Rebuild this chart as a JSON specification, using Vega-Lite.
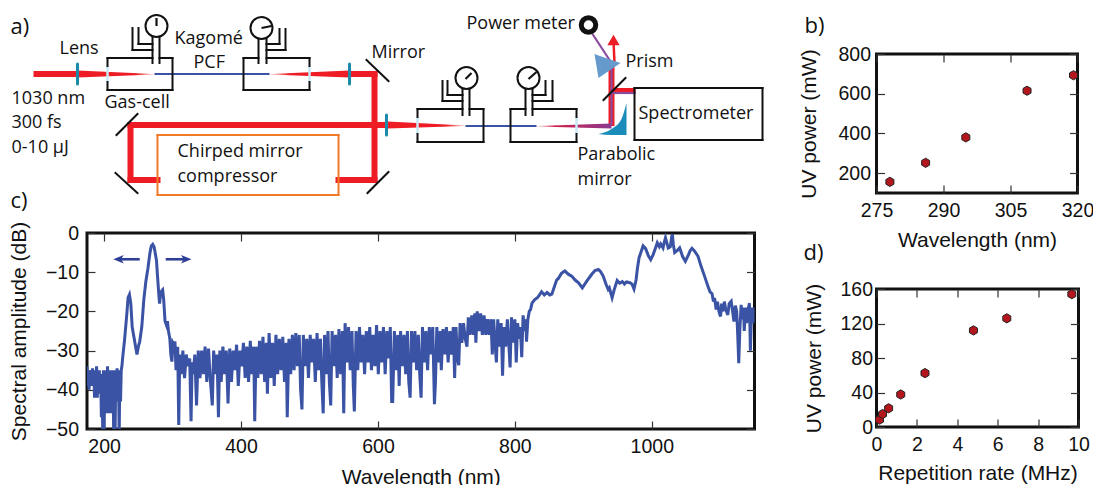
{
"$schema":"https://vega.github.io/schema/vega-lite/v6.json",
"background":"white",
"padding":{"left":7,"top":3,"right":0,"bottom":0},
"spacing":32.5,
"config":{"font":"Liberation Sans","axis":{"domain":false,"grid":false,"tickColor":"#333","tickSize":-8,"tickWidth":1.2,"labelFont":"Liberation Sans","labelFontSize":19.5,"labelColor":"#111","titleFont":"Liberation Sans","titleFontSize":21,"titleFontWeight":"normal","titleColor":"#111","labelOverlap":false,"labelBound":false,"labelFlush":false,"labelPadding":16.5},"view":{"stroke":"#111","strokeWidth":3}},
"datasets":{
"black":[
{"x":108,"y":65,"x2":108,"y2":57},{"x":108,"y":57,"x2":153,"y2":57},{"x":160,"y":57,"x2":173,"y2":57},{"x":173,"y":57,"x2":173,"y2":89},{"x":173,"y":89,"x2":108,"y2":89},{"x":108,"y":89,"x2":108,"y2":81},
{"x":153,"y":36,"x2":153,"y2":62},{"x":160,"y":35,"x2":160,"y2":62},{"x":133,"y":27,"x2":133,"y2":49},{"x":133,"y":49,"x2":153,"y2":49},{"x":139,"y":27,"x2":139,"y2":43},{"x":139,"y":43,"x2":153,"y2":43},
{"x":310,"y":65,"x2":310,"y2":57},{"x":310,"y":57,"x2":267,"y2":57},{"x":259,"y":57,"x2":244,"y2":57},{"x":244,"y":57,"x2":244,"y2":89},{"x":244,"y":89,"x2":310,"y2":89},{"x":310,"y":89,"x2":310,"y2":81},
{"x":259,"y":37,"x2":259,"y2":62},{"x":267,"y":37,"x2":267,"y2":62},{"x":286,"y":28,"x2":286,"y2":49},{"x":286,"y":49,"x2":267,"y2":49},{"x":280,"y":28,"x2":280,"y2":43},{"x":280,"y":43,"x2":267,"y2":43},
{"x":418,"y":116,"x2":418,"y2":108},{"x":418,"y":108,"x2":463,"y2":108},{"x":470,"y":108,"x2":484,"y2":108},{"x":484,"y":108,"x2":484,"y2":141},{"x":484,"y":141,"x2":418,"y2":141},{"x":418,"y":141,"x2":418,"y2":133},
{"x":463,"y":88,"x2":463,"y2":114},{"x":470,"y":88,"x2":470,"y2":114},{"x":443,"y":80,"x2":443,"y2":100},{"x":443,"y":100,"x2":463,"y2":100},{"x":448,"y":80,"x2":448,"y2":94},{"x":448,"y":94,"x2":463,"y2":94},
{"x":577,"y":116,"x2":577,"y2":108},{"x":577,"y":108,"x2":533,"y2":108},{"x":526,"y":108,"x2":511,"y2":108},{"x":511,"y":108,"x2":511,"y2":141},{"x":511,"y":141,"x2":577,"y2":141},{"x":577,"y":141,"x2":577,"y2":133},
{"x":526,"y":88,"x2":526,"y2":114},{"x":533,"y":88,"x2":533,"y2":114},{"x":553,"y":80,"x2":553,"y2":100},{"x":553,"y":100,"x2":533,"y2":100},{"x":546,"y":80,"x2":546,"y2":94},{"x":546,"y":94,"x2":533,"y2":94},
{"x":635,"y":87,"x2":763,"y2":87},{"x":763,"y":87,"x2":763,"y2":139},{"x":763,"y":139,"x2":635,"y2":139},{"x":635,"y":139,"x2":635,"y2":87},
{"x":367,"y":59,"x2":389,"y2":80},{"x":117,"y":134,"x2":138,"y2":113},{"x":116,"y":172,"x2":138,"y2":192},{"x":368,"y":192,"x2":389,"y2":171},{"x":604,"y":99,"x2":626,"y2":77}],
"needles":[{"x":157,"y":25,"x2":157,"y2":17},{"x":262,"y":27,"x2":272,"y2":25},{"x":466,"y":78,"x2":472,"y2":72},{"x":529,"y":78,"x2":537,"y2":71}],
"red":[
{"x":37,"y":73,"x2":78,"y2":73},{"x":350,"y":73,"x2":375,"y2":73},{"x":375,"y":73,"x2":375,"y2":179},{"x":131,"y":124,"x2":375,"y2":124},{"x":375,"y":124,"x2":388,"y2":124},{"x":131,"y":124,"x2":131,"y2":179},{"x":131,"y":179,"x2":158,"y2":179},{"x":339,"y":179,"x2":375,"y2":179}],
"redthin":[{"x":612,"y":125,"x2":612,"y2":62},{"x":614,"y":90,"x2":636,"y2":90}],
"cones_out":[
{"g":"a","x":78,"y":69.5,"y2":76.5},{"g":"a","x":155,"y":73,"y2":73.5},
{"g":"c","x":388,"y":120.5,"y2":127.5},{"g":"c","x":466,"y":124.5,"y2":125}],
"cones_in":[
{"g":"b","x":270,"y":73,"y2":73.5},{"g":"b","x":350,"y":69.5,"y2":76.5}],
"cone_end":[{"g":"d","x":537,"y":125,"y2":125.5},{"g":"d","x":612,"y":122.5,"y2":127.5}],
"pcf":[{"x":155,"y":73,"x2":270,"y2":73},{"x":466,"y":125,"x2":537,"y2":125}],
"purple":[{"x":612,"y":124,"x2":612,"y2":62},{"x":612,"y":62,"x2":593,"y2":33},{"x":613,"y":92,"x2":636,"y2":92}],
"redup":[{"x":615,"y":62,"x2":614,"y2":40}],
"windows":[{"x":108,"y":65,"x2":108,"y2":81},{"x":310,"y":65,"x2":310,"y2":81},{"x":418,"y":116,"x2":418,"y2":133},{"x":577,"y":116,"x2":577,"y2":133}],
"lenses":[{"x":78,"y":63,"x2":78,"y2":83},{"x":350,"y":63,"x2":350,"y2":83},{"x":387,"y":114,"x2":387,"y2":134}],
"orange":[{"x":158,"y":134,"x2":339,"y2":134},{"x":339,"y":134,"x2":339,"y2":194},{"x":339,"y":194,"x2":158,"y2":194},{"x":158,"y":194,"x2":158,"y2":134}],
"gauges":[{"x":157,"y":25},{"x":262,"y":27},{"x":467,"y":77},{"x":529,"y":77}],
"meter":[{"x":589,"y":24}],
"arrowhead":[{"x":614,"y":39}],
"prism":[{"x":595,"y":53,"y2":53},{"x":599,"y":54.4,"y2":77},{"x":621,"y":62,"y2":62}],
"parabola":[{"x":599,"y":133,"y2":133},{"x":612,"y":128,"y2":134},{"x":622,"y":118,"y2":134},{"x":627,"y":102,"y2":134}],
"labels":[
{"x":60,"y":48,"t":"Lens"},{"x":175,"y":38,"t":"Kagomé"},{"x":194,"y":62,"t":"PCF"},{"x":372,"y":52,"t":"Mirror"},{"x":105,"y":102,"t":"Gas-cell"},
{"x":12,"y":98,"t":"1030 nm"},{"x":12,"y":122,"t":"300 fs"},{"x":12,"y":147,"t":"0-10 µJ"},{"x":178,"y":151,"t":"Chirped mirror"},{"x":178,"y":176,"t":"compressor"},
{"x":467,"y":23,"t":"Power meter"},{"x":626,"y":61,"t":"Prism"},{"x":639,"y":113,"t":"Spectrometer"},{"x":578,"y":154,"t":"Parabolic"},{"x":578,"y":179,"t":"mirror"}],
"panels":[{"x":11,"y":26,"t":"a)"},{"x":11,"y":200,"t":"c)"}],
"anchorA":[{"x":400,"y":5}],
"anchorB":[{"w":290,"p":1042}],
"panelB":[{"w":258.9,"p":941,"t":"b)"}],
"panelD":[{"r":-3.61,"p":201.7,"t":"d)"}],
"spectrum":[
{"w":175,"a":-34},{"w":176,"a":-39},{"w":177,"a":-35},{"w":178,"a":-40},{"w":179,"a":-36},{"w":180,"a":-38},{"w":181,"a":-35},{"w":182,"a":-39},{"w":183,"a":-34.5},{"w":184,"a":-37},{"w":185,"a":-35},{"w":186,"a":-42},{"w":187,"a":-35},{"w":188,"a":-38},{"w":189,"a":-34},{"w":190,"a":-42},{"w":191,"a":-36},{"w":192,"a":-38},{"w":193,"a":-35},{"w":194,"a":-41},{"w":195,"a":-36},{"w":196,"a":-47},{"w":197,"a":-36},{"w":198,"a":-52},{"w":199,"a":-35},{"w":200,"a":-52},{"w":201,"a":-35},{"w":202,"a":-46},{"w":203,"a":-36},{"w":204,"a":-45},{"w":205,"a":-34},{"w":206,"a":-46},{"w":207,"a":-36},{"w":208,"a":-41},{"w":209,"a":-35},{"w":210,"a":-46},{"w":211,"a":-35},{"w":212,"a":-42},{"w":213,"a":-36},{"w":214,"a":-52},{"w":215,"a":-35},{"w":216,"a":-52},{"w":217,"a":-36},{"w":218,"a":-40},{"w":219,"a":-34.5},{"w":220,"a":-43},{"w":221,"a":-36},{"w":222,"a":-52},{"w":223,"a":-35},{"w":224,"a":-43},{"w":225,"a":-35},{"w":226,"a":-34},{"w":227,"a":-32},
{"w":230,"a":-27},{"w":233,"a":-21},{"w":235,"a":-16.5},{"w":237,"a":-15.7},{"w":239,"a":-18},{"w":241,"a":-24},{"w":244,"a":-27},{"w":246,"a":-29},{"w":248,"a":-31},{"w":250,"a":-29},{"w":252,"a":-27.7},{"w":255,"a":-24},{"w":258,"a":-17},{"w":261,"a":-12.3},{"w":264,"a":-9},{"w":267,"a":-5},{"w":269,"a":-3.3},{"w":271,"a":-2.9},{"w":273,"a":-3.5},{"w":275,"a":-5.5},{"w":276.5,"a":-7},{"w":278,"a":-11},{"w":280,"a":-16},{"w":281,"a":-18},{"w":282.5,"a":-15.5},{"w":284,"a":-14.8},{"w":285.5,"a":-14.5},{"w":287,"a":-17},{"w":289,"a":-22.5},{"w":291,"a":-23.5},{"w":292.5,"a":-22.5},{"w":294,"a":-25},{"w":296,"a":-27},{"w":297.5,"a":-31},{"w":299,"a":-32.8},{"w":300.5,"a":-28},{"w":302,"a":-28.5},{"w":303.5,"a":-27.7},
{"w":305,"a":-35},{"w":307.5,"a":-29},{"w":309,"a":-49},{"w":310.5,"a":-31},{"w":312.5,"a":-36},{"w":315,"a":-30},{"w":317.5,"a":-37},{"w":320,"a":-31},{"w":322.5,"a":-34},{"w":325,"a":-32},{"w":327,"a":-48},{"w":328.5,"a":-33},{"w":330,"a":-36},{"w":332.5,"a":-31},{"w":335,"a":-44},{"w":337.5,"a":-30},{"w":340,"a":-37},{"w":342.5,"a":-30},{"w":345,"a":-36},{"w":347.5,"a":-29},{"w":350,"a":-38},{"w":352.5,"a":-29.5},{"w":355,"a":-37},{"w":358,"a":-44},{"w":360,"a":-30},{"w":362.5,"a":-36},{"w":365,"a":-31},{"w":367,"a":-47},{"w":369,"a":-30},{"w":371,"a":-38},{"w":373.5,"a":-29},{"w":376,"a":-36},{"w":378.5,"a":-30},{"w":381,"a":-43.5},{"w":383.5,"a":-29.5},{"w":386,"a":-38},{"w":388.5,"a":-30},{"w":391,"a":-35},{"w":393.5,"a":-28.5},{"w":396,"a":-39},{"w":398.5,"a":-30},{"w":401,"a":-34},{"w":403.5,"a":-28},{"w":406,"a":-37},{"w":408.5,"a":-29},{"w":411,"a":-38},{"w":413.5,"a":-27.5},{"w":416,"a":-36},{"w":418.5,"a":-29},{"w":420,"a":-48},{"w":422,"a":-29},{"w":424.5,"a":-37},{"w":427,"a":-27.5},{"w":429.5,"a":-36},{"w":432,"a":-26.5},{"w":434.5,"a":-38},{"w":437,"a":-28},{"w":438.5,"a":-41},{"w":441,"a":-25.5},{"w":443.5,"a":-37},{"w":446,"a":-28},{"w":448.5,"a":-39},{"w":451,"a":-26},{"w":453.5,"a":-36},{"w":456,"a":-27},{"w":458.5,"a":-35},{"w":461,"a":-26.5},{"w":463.5,"a":-38},{"w":466,"a":-28},{"w":467.5,"a":-47},{"w":470,"a":-27},{"w":472.5,"a":-36},{"w":475,"a":-26},{"w":477.5,"a":-35},{"w":480,"a":-25.5},{"w":482.5,"a":-34},{"w":485,"a":-26},{"w":487,"a":-40},{"w":489,"a":-45},{"w":491,"a":-26},{"w":493.5,"a":-34},{"w":496,"a":-27},{"w":498.5,"a":-37},{"w":501,"a":-26},{"w":503.5,"a":-33},{"w":506,"a":-27},{"w":508.5,"a":-38},{"w":511,"a":-25.5},{"w":513.5,"a":-35},{"w":516,"a":-27},{"w":518,"a":-38},{"w":520,"a":-46},{"w":522,"a":-26},{"w":524.5,"a":-36},{"w":527,"a":-25},{"w":529,"a":-38},{"w":531,"a":-44},{"w":533,"a":-25},{"w":535.5,"a":-34},{"w":538,"a":-26},{"w":540.5,"a":-37},{"w":543,"a":-24.5},{"w":545.5,"a":-36},{"w":548,"a":-25},{"w":550,"a":-46},{"w":552,"a":-23},{"w":554.5,"a":-33},{"w":557,"a":-24},{"w":559.5,"a":-35},{"w":562,"a":-25},{"w":564,"a":-39},{"w":565.5,"a":-45.5},{"w":568,"a":-25},{"w":570.5,"a":-35},{"w":573,"a":-24},{"w":575.5,"a":-33},{"w":578,"a":-26},{"w":580.5,"a":-36},{"w":583,"a":-25},{"w":585.5,"a":-33},{"w":588,"a":-24},{"w":590.5,"a":-35},{"w":593,"a":-26},{"w":595.5,"a":-34},{"w":598,"a":-23.5},{"w":600.5,"a":-36},{"w":603,"a":-25},{"w":605.5,"a":-33},{"w":608,"a":-24},{"w":610.5,"a":-36},{"w":613,"a":-25},{"w":615.5,"a":-32},{"w":618,"a":-24},{"w":620,"a":-43},{"w":621.5,"a":-43},{"w":624,"a":-25},{"w":626.5,"a":-35},{"w":629,"a":-26},{"w":631,"a":-39},{"w":633,"a":-25},{"w":635.5,"a":-34},{"w":638,"a":-26},{"w":640.5,"a":-36},{"w":643,"a":-25},{"w":645,"a":-38},{"w":647,"a":-42},{"w":649,"a":-25},{"w":651.5,"a":-33},{"w":654,"a":-25},{"w":656.5,"a":-35},{"w":659,"a":-26},{"w":661,"a":-36},{"w":663,"a":-42},{"w":665,"a":-24},{"w":667.5,"a":-33},{"w":670,"a":-25},{"w":672.5,"a":-35},{"w":675,"a":-24},{"w":677.5,"a":-31},{"w":680,"a":-24},{"w":682.5,"a":-43.7},{"w":684,"a":-38},{"w":686,"a":-24},{"w":688.5,"a":-33},{"w":691,"a":-25},{"w":692.5,"a":-35},{"w":695,"a":-24.5},{"w":697.5,"a":-31},{"w":700,"a":-24},{"w":702.5,"a":-33},{"w":705,"a":-25},{"w":707.5,"a":-31},{"w":710,"a":-24},{"w":712,"a":-37},{"w":714,"a":-24},{"w":716,"a":-32},{"w":718,"a":-33.7},{"w":720,"a":-23},{"w":722.5,"a":-28},{"w":725,"a":-23},{"w":727.5,"a":-27},{"w":730,"a":-29},{"w":732,"a":-21.5},{"w":734.5,"a":-26},{"w":737,"a":-21},{"w":739.5,"a":-26},{"w":741.5,"a":-20.5},{"w":743,"a":-28},{"w":745,"a":-20},{"w":747.5,"a":-25},{"w":750,"a":-20.5},{"w":752.5,"a":-26},{"w":755,"a":-21},{"w":757.5,"a":-26},{"w":760,"a":-22},{"w":762.5,"a":-26},{"w":765,"a":-22},{"w":767,"a":-31},{"w":769,"a":-22},{"w":771,"a":-28},{"w":773,"a":-33},{"w":775,"a":-22},{"w":777.5,"a":-29},{"w":780,"a":-23},{"w":782,"a":-36.4},{"w":784,"a":-24},{"w":786.5,"a":-29},{"w":789,"a":-22},{"w":791,"a":-28},{"w":793,"a":-34.3},{"w":795,"a":-21.5},{"w":797.5,"a":-28},{"w":800,"a":-22},{"w":802,"a":-33},{"w":804,"a":-23},{"w":806.5,"a":-27},{"w":808,"a":-24},{"w":810,"a":-31.7},{"w":812,"a":-21},{"w":814,"a":-25},{"w":816,"a":-22},{"w":817,"a":-27.7},{"w":819,"a":-22},{"w":821,"a":-20},{"w":823,"a":-19.5},{"w":825,"a":-17.9},
{"w":829,"a":-17},{"w":833,"a":-16.5},{"w":836,"a":-15.8},{"w":839,"a":-15},{"w":843,"a":-15.8},{"w":847,"a":-15.2},{"w":851,"a":-15.8},{"w":854,"a":-15.6},{"w":858,"a":-13.5},{"w":861,"a":-12},{"w":863.5,"a":-11.6},{"w":868,"a":-10.3},{"w":873,"a":-9.7},{"w":878,"a":-10.5},{"w":883,"a":-11},{"w":888,"a":-12},{"w":893,"a":-12.7},{"w":898.5,"a":-14},{"w":905,"a":-12.3},{"w":912,"a":-10.6},{"w":917,"a":-9.6},{"w":922,"a":-9.3},{"w":925,"a":-9.8},{"w":929,"a":-11},{"w":933,"a":-13},{"w":936.3,"a":-14.4},{"w":938,"a":-14},{"w":942,"a":-16.5},{"w":945,"a":-14.5},{"w":949.4,"a":-12.1},{"w":953,"a":-12.8},{"w":957,"a":-12.4},{"w":960,"a":-13},{"w":963,"a":-12.5},{"w":968,"a":-12.7},{"w":971,"a":-13},{"w":974,"a":-14.3},{"w":977,"a":-12},{"w":979,"a":-9},{"w":981.4,"a":-6.3},{"w":984,"a":-5},{"w":987.3,"a":-3.3},{"w":991,"a":-4},{"w":995,"a":-5.8},{"w":998.4,"a":-6.8},{"w":1002,"a":-5.5},{"w":1005,"a":-4},{"w":1008,"a":-2.5},{"w":1011,"a":-3.5},{"w":1013,"a":-2.8},{"w":1016.4,"a":-3.8},{"w":1018,"a":-2.5},{"w":1020,"a":-1.2},{"w":1022,"a":-2.5},{"w":1024,"a":-3.8},{"w":1027,"a":-3.5},{"w":1029,"a":-1},{"w":1030,"a":-0.3},{"w":1031.5,"a":-3},{"w":1033.4,"a":-5},{"w":1037,"a":-4.5},{"w":1040.7,"a":-3.8},{"w":1045,"a":-6},{"w":1049,"a":-7.2},{"w":1053,"a":-5.8},{"w":1056,"a":-4.5},{"w":1058.6,"a":-3.9},{"w":1062,"a":-4.5},{"w":1067.4,"a":-5.9},{"w":1072,"a":-8.5},{"w":1077,"a":-11},{"w":1082,"a":-13.6},{"w":1085,"a":-15},{"w":1088,"a":-15.5},{"w":1090,"a":-17.5},{"w":1091.7,"a":-16.6},{"w":1094,"a":-19.5},{"w":1096,"a":-17.5},{"w":1098,"a":-20},{"w":1100.4,"a":-21.3},{"w":1102,"a":-18},{"w":1104,"a":-20},{"w":1106,"a":-17.5},{"w":1108,"a":-19.5},{"w":1111,"a":-20.9},{"w":1113,"a":-18},{"w":1116,"a":-17.4},{"w":1118,"a":-20},{"w":1120,"a":-22.6},{"w":1122,"a":-18.5},{"w":1124,"a":-20},{"w":1125.5,"a":-26},{"w":1127,"a":-33.2},{"w":1128.5,"a":-25},{"w":1130.5,"a":-18.3},{"w":1132,"a":-22},{"w":1134,"a":-19},{"w":1135,"a":-25},{"w":1137,"a":-19},{"w":1138.5,"a":-23},{"w":1140,"a":-20},{"w":1142.6,"a":-17.9},{"w":1144,"a":-30},{"w":1145.5,"a":-21},{"w":1147,"a":-19},{"w":1148.5,"a":-23},{"w":1150,"a":-19}],
"uvb":[{"w":278,"p":156},{"w":286,"p":252},{"w":295,"p":380},{"w":308.7,"p":615},{"w":319.1,"p":693}],
"uvd":[{"r":0.15,"p":8.5},{"r":0.3,"p":15},{"r":0.6,"p":21.7},{"r":1.2,"p":37.7},{"r":2.4,"p":62.5},{"r":4.8,"p":112},{"r":6.45,"p":126},{"r":9.67,"p":154}],
"arrowL":[{"w":222,"a":-6.7,"w2":252,"a2":-6.7}],
"arrowR":[{"w":290,"a":-6.7,"w2":319,"a2":-6.7}],
"headL":[{"w":221,"a":-6.7}],
"headR":[{"w":320,"a":-6.7}]
},
"hconcat":[
{"bounds":"flush","spacing":40,"vconcat":[
{"width":667.5,"height":139,"view":{"stroke":null},
"encoding":{"x":{"field":"x","type":"quantitative","axis":null,"scale":{"domain":[87.5,755],"nice":false,"zero":false}},"y":{"field":"y","type":"quantitative","axis":null,"scale":{"domain":[192,53],"nice":false,"zero":false}}},
"layer":[
{"data":{"name":"anchorA"},"mark":{"type":"point","opacity":0,"size":1}},
{"data":{"name":"red"},"mark":{"type":"rule","color":"#ee1c25","strokeWidth":6,"strokeCap":"square"},"encoding":{"x2":{"field":"x2"},"y2":{"field":"y2"}}},
{"data":{"name":"redthin"},"mark":{"type":"rule","color":"#ee1c25","strokeWidth":6},"encoding":{"x2":{"field":"x2"},"y2":{"field":"y2"}}},
{"data":{"name":"redup"},"mark":{"type":"rule","color":"#ee1c25","strokeWidth":2.5},"encoding":{"x2":{"field":"x2"},"y2":{"field":"y2"}}},
{"data":{"name":"arrowhead"},"mark":{"type":"point","shape":"triangle-up","filled":true,"opacity":1,"color":"#ee1c25","size":150}},
{"data":{"name":"cones_out"},"mark":{"type":"area","orient":"vertical","color":{"gradient":"linear","x1":0,"x2":1,"y1":0,"y2":0,"stops":[{"offset":0,"color":"#ee1c25"},{"offset":0.75,"color":"#ee1c25"},{"offset":1,"color":"#fbd5d5"}]}},"encoding":{"y2":{"field":"y2"},"detail":{"field":"g"}}},
{"data":{"name":"cones_in"},"mark":{"type":"area","orient":"vertical","color":{"gradient":"linear","x1":0,"x2":1,"y1":0,"y2":0,"stops":[{"offset":0,"color":"#fbd5d5"},{"offset":0.25,"color":"#ee1c25"},{"offset":1,"color":"#ee1c25"}]}},"encoding":{"y2":{"field":"y2"},"detail":{"field":"g"}}},
{"data":{"name":"cone_end"},"mark":{"type":"area","orient":"vertical","color":{"gradient":"linear","x1":0,"x2":1,"y1":0,"y2":0,"stops":[{"offset":0,"color":"#fbd5d5"},{"offset":0.25,"color":"#d0204a"},{"offset":1,"color":"#8a3a90"}]}},"encoding":{"y2":{"field":"y2"},"detail":{"field":"g"}}},
{"data":{"name":"pcf"},"mark":{"type":"rule","color":"#3a53a4","strokeWidth":2.2},"encoding":{"x2":{"field":"x2"},"y2":{"field":"y2"}}},
{"data":{"name":"purple"},"mark":{"type":"rule","color":"#8a4a9e","strokeWidth":2.2},"encoding":{"x2":{"field":"x2"},"y2":{"field":"y2"}}},
{"data":{"name":"windows"},"mark":{"type":"rule","color":"#c8e8f5","strokeWidth":2.5},"encoding":{"x2":{"field":"x2"},"y2":{"field":"y2"}}},
{"data":{"name":"black"},"mark":{"type":"rule","color":"#111","strokeWidth":2,"strokeCap":"square"},"encoding":{"x2":{"field":"x2"},"y2":{"field":"y2"}}},
{"data":{"name":"lenses"},"mark":{"type":"rule","color":"#1a8aa8","strokeWidth":3,"strokeCap":"round"},"encoding":{"x2":{"field":"x2"},"y2":{"field":"y2"}}},
{"data":{"name":"orange"},"mark":{"type":"rule","color":"#f07a28","strokeWidth":2,"strokeCap":"square"},"encoding":{"x2":{"field":"x2"},"y2":{"field":"y2"}}},
{"data":{"name":"gauges"},"mark":{"type":"point","shape":"circle","filled":true,"opacity":1,"fill":"white","stroke":"#111","strokeWidth":2,"size":484}},
{"data":{"name":"needles"},"mark":{"type":"rule","color":"#111","strokeWidth":2.2},"encoding":{"x2":{"field":"x2"},"y2":{"field":"y2"}}},
{"data":{"name":"meter"},"mark":{"type":"point","shape":"circle","filled":false,"opacity":1,"color":"#111","strokeWidth":5,"size":210}},
{"data":{"name":"prism"},"mark":{"type":"area","orient":"vertical","color":"#6699cc"},"encoding":{"y2":{"field":"y2"}}},
{"data":{"name":"parabola"},"mark":{"type":"area","orient":"vertical","color":"#1a8cba","interpolate":"monotone"},"encoding":{"y2":{"field":"y2"}}},
{"data":{"name":"labels"},"mark":{"type":"text","align":"left","baseline":"middle","font":"Open Sans","fontSize":18,"color":"#111"},"encoding":{"text":{"field":"t"}}},
{"data":{"name":"panels"},"mark":{"type":"text","align":"left","baseline":"middle","font":"Open Sans","fontSize":22,"color":"#111"},"encoding":{"text":{"field":"t"}}}
]},
{"width":667.5,"height":196,
"resolve":{"axis":{"x":"independent","y":"independent"}},
"encoding":{"x":{"field":"w","type":"quantitative","scale":{"domain":[175,1150],"nice":false,"zero":false}},"y":{"field":"a","type":"quantitative","scale":{"domain":[-50,0],"nice":false,"zero":false}}},
"layer":[
{"data":{"name":"spectrum"},"mark":{"type":"line","color":"#3a53a4","strokeWidth":3,"clip":true,"strokeJoin":"miter"},
"encoding":{"x":{"field":"w","type":"quantitative","axis":{"orient":"bottom","title":"Wavelength (nm)","values":[200,400,600,800,1000],"format":"d","titlePadding":10}},"y":{"field":"a","type":"quantitative","axis":{"orient":"left","title":"Spectral amplitude (dB)","values":[0,-10,-20,-30,-40,-50],"titlePadding":15.5}}}},
{"data":{"name":"headL"},"mark":{"type":"point","shape":"M-1,0 L1,-0.8 L0.5,0 L1,0.8 Z","filled":true,"opacity":1,"color":"#2e3f95","size":110},
"encoding":{"x":{"field":"w","type":"quantitative","axis":{"orient":"top","title":null,"labels":false,"values":[200,400,600,800,1000]}},"y":{"field":"a","type":"quantitative","axis":{"orient":"right","title":null,"labels":false,"values":[0,-10,-20,-30,-40,-50]}}}},
{"data":{"name":"headR"},"mark":{"type":"point","shape":"M1,0 L-1,-0.8 L-0.5,0 L-1,0.8 Z","filled":true,"opacity":1,"color":"#2e3f95","size":110},"encoding":{"x":{"field":"w","type":"quantitative","axis":null},"y":{"field":"a","type":"quantitative","axis":null}}},
{"data":{"name":"arrowL"},"mark":{"type":"rule","color":"#2e3f95","strokeWidth":2.6},"encoding":{"x":{"field":"w","type":"quantitative","axis":null},"y":{"field":"a","type":"quantitative","axis":null},"x2":{"field":"w2"},"y2":{"field":"a2"}}},
{"data":{"name":"arrowR"},"mark":{"type":"rule","color":"#2e3f95","strokeWidth":2.6},"encoding":{"x":{"field":"w","type":"quantitative","axis":null},"y":{"field":"a","type":"quantitative","axis":null},"x2":{"field":"w2"},"y2":{"field":"a2"}}}
]}
]},
{"bounds":"flush","spacing":96,"vconcat":[
{"width":201,"height":139,
"resolve":{"axis":{"x":"independent","y":"independent"}},
"layer":[
{"data":{"name":"uvb"},"mark":{"type":"point","shape":"M0,-1 L0.866,-0.5 L0.866,0.5 L0,1 L-0.866,0.5 L-0.866,-0.5 Z","filled":true,"opacity":1,"fill":"#b3171d","stroke":"#222","strokeWidth":1,"size":85},
"encoding":{"x":{"field":"w","type":"quantitative","scale":{"domain":[275,320],"nice":false,"zero":false},"axis":{"orient":"bottom","title":"Wavelength (nm)","values":[275,290,305,320],"titlePadding":9.5}},"y":{"field":"p","type":"quantitative","scale":{"domain":[100,800],"nice":false,"zero":false},"axis":{"orient":"left","title":"UV power (mW)","values":[200,400,600,800],"labelPadding":14,"titlePadding":18}}}},
{"data":{"name":"uvb"},"mark":{"type":"point","opacity":0},
"encoding":{"x":{"field":"w","type":"quantitative","axis":{"orient":"top","title":null,"labels":false,"values":[275,290,305,320]}},"y":{"field":"p","type":"quantitative","axis":{"orient":"right","title":null,"labels":false,"values":[200,400,600,800]}}}},
{"data":{"name":"anchorB"},"mark":{"type":"point","opacity":0,"size":1},"encoding":{"x":{"field":"w","type":"quantitative","axis":null},"y":{"field":"p","type":"quantitative","axis":null}}},
{"data":{"name":"panelB"},"mark":{"type":"text","align":"left","baseline":"middle","font":"Open Sans","fontSize":22,"color":"#111"},"encoding":{"x":{"field":"w","type":"quantitative","axis":null},"y":{"field":"p","type":"quantitative","axis":null},"text":{"field":"t"}}}
]},
{"width":202,"height":138,
"resolve":{"axis":{"x":"independent","y":"independent"}},
"layer":[
{"data":{"name":"uvd"},"mark":{"type":"point","shape":"M0,-1 L0.866,-0.5 L0.866,0.5 L0,1 L-0.866,0.5 L-0.866,-0.5 Z","filled":true,"opacity":1,"fill":"#b3171d","stroke":"#222","strokeWidth":1,"size":85},
"encoding":{"x":{"field":"r","type":"quantitative","scale":{"domain":[0,10],"nice":false,"zero":false},"axis":{"orient":"bottom","title":"Repetition rate (MHz)","values":[0,2,4,6,8,10],"titlePadding":8.5}},"y":{"field":"p","type":"quantitative","scale":{"domain":[0,160],"nice":false,"zero":false},"axis":{"orient":"left","title":"UV power (mW)","values":[0,40,80,120,160],"labelPadding":12,"titlePadding":15}}}},
{"data":{"name":"uvd"},"mark":{"type":"point","opacity":0},
"encoding":{"x":{"field":"r","type":"quantitative","axis":{"orient":"top","title":null,"labels":false,"values":[0,2,4,6,8,10]}},"y":{"field":"p","type":"quantitative","axis":{"orient":"right","title":null,"labels":false,"values":[0,40,80,120,160]}}}},
{"data":{"name":"panelD"},"mark":{"type":"text","align":"left","baseline":"middle","font":"Open Sans","fontSize":22,"color":"#111"},"encoding":{"x":{"field":"r","type":"quantitative","axis":null},"y":{"field":"p","type":"quantitative","axis":null},"text":{"field":"t"}}}
]}
]}
]
}
